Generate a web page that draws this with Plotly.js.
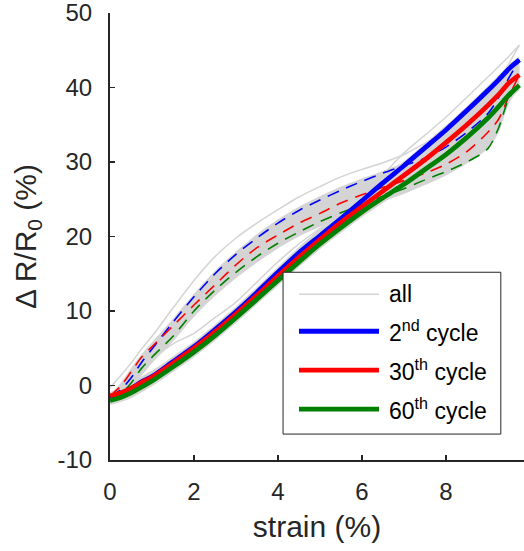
<!DOCTYPE html>
<html>
<head>
<meta charset="utf-8">
<script src="https://cdn.plot.ly/plotly-3.0.1.min.js"></script>
<style>
  html, body { margin: 0; padding: 0; background: #fff; }
  #chart { width: 524px; height: 551px; }
</style>
</head>
<body>
<div id="chart"></div>
<script>
// Strain sample points (%)
const strain = [0, 0.25, 0.5, 0.75, 1, 1.5, 2, 2.5, 3, 3.5, 4, 4.5, 5, 5.5, 6, 6.5, 7, 7.5, 8, 8.5, 9, 9.25, 9.5, 9.75];

// Loading branches (solid) of selected cycles, ΔR/R0 (%)
const loadCycle2  = [-1.5, -1.1, -0.4, 0.5, 1.2, 3.2, 5.2, 7.5, 9.9, 12.5, 15.2, 17.8, 20.1, 22.4, 24.8, 27.2, 29.5, 31.9, 34.3, 36.9, 39.6, 41.0, 42.5, 43.7];
const loadCycle30 = [-1.4, -1.0, -0.4, 0.4, 1.1, 3.0, 5.0, 7.2, 9.6, 12.1, 14.7, 17.2, 19.6, 21.9, 24.0, 26.1, 28.2, 30.3, 32.6, 35.0, 37.6, 39.0, 40.6, 41.7];
const loadCycle60 = [-2.0, -1.6, -1.0, -0.2, 0.6, 2.5, 4.5, 6.7, 9.1, 11.6, 14.1, 16.6, 19.0, 21.2, 23.3, 25.2, 27.0, 29.0, 31.0, 33.3, 35.9, 37.4, 39.0, 40.3];

// Unloading branches (dashed) of selected cycles
const unloadCycle2  = [-1.5, -0.6, 1.0, 3.1, 4.9, 8.5, 11.9, 15.0, 17.6, 19.8, 21.8, 23.5, 24.9, 26.2, 27.4, 28.5, 29.5, 30.5, 32.0, 34.0, 36.5, 38.6, 41.3, 43.7];
const unloadCycle30 = [-1.4, -0.1, 1.8, 3.8, 5.2, 8.0, 10.8, 13.5, 16.2, 18.5, 20.2, 21.8, 23.1, 24.5, 25.6, 26.6, 27.5, 28.5, 29.7, 31.4, 34.0, 35.7, 38.8, 41.7];
const unloadCycle60 = [-2.0, -1.2, 0.3, 2.3, 3.8, 6.6, 10.0, 12.8, 15.2, 17.3, 19.1, 20.6, 22.0, 23.2, 24.3, 25.4, 26.4, 27.6, 28.7, 30.0, 31.8, 34.5, 38.5, 40.3];

// Envelope of all cycles: unloading spread
const allUnloadUpper = [-1.2, 0.3, 2.3, 4.2, 5.8, 9.0, 12.3, 15.4, 18.0, 20.3, 22.3, 24.0, 25.4, 26.7, 27.8, 28.8, 29.9, 30.9, 32.4, 34.5, 37.1, 39.1, 41.6, 43.7];
const allUnloadLower = [-2.3, -1.8, -0.6, 1.3, 3.0, 5.9, 9.2, 12.0, 14.4, 16.5, 18.4, 20.0, 21.3, 22.5, 23.6, 24.7, 25.7, 26.9, 28.2, 29.8, 31.8, 33.9, 37.8, 40.0];
// Envelope of all cycles: loading spread
const allLoadUpper = [-1.0, -0.5, 0.3, 1.2, 2.0, 3.9, 5.9, 8.2, 10.6, 13.2, 15.9, 18.6, 21.0, 23.0, 25.3, 27.8, 30.1, 32.5, 34.9, 37.5, 40.2, 41.6, 43.1, 44.2];
const allLoadLower = [-2.6, -2.2, -1.7, -0.9, -0.1, 1.8, 3.8, 6.0, 8.4, 10.9, 13.4, 15.9, 18.3, 20.5, 22.6, 24.5, 26.3, 28.3, 30.3, 32.6, 35.2, 36.7, 38.3, 39.6];
// Individual cycles lying outside the envelopes
const outerUnload = [-0.3, 1.3, 3.0, 4.9, 6.6, 10.4, 14.1, 17.3, 19.8, 21.8, 23.6, 25.3, 26.7, 28.0, 29.0, 29.9, 31.0, 32.5, 34.0, 36.0, 38.6, 40.8, 43.2, 45.7];
const outerLoad   = [-1.0, -0.2, 1.0, 2.3, 3.5, 5.6, 7.0, 9.1, 11.2, 13.9, 16.6, 19.0, 21.1, 23.3, 25.7, 28.3, 31.2, 33.6, 36.0, 38.7, 41.4, 42.8, 44.2, 45.7];

// Axis ticks
const xTicks = [0, 2, 4, 6, 8];
const yTicks = [-10, 0, 10, 20, 30, 40, 50];
const yTickText = ['-10', '0', '10', '20', '30', '40', '50'];

// Series labels and colours
const seriesNames  = ['all', '2<sup>nd</sup> cycle', '30<sup>th</sup> cycle', '60<sup>th</sup> cycle'];
const seriesColors = ['#d4d4d4', '#0000ff', '#ff0000', '#008000'];

const GRAY = seriesColors[0];
const FONT = 'Liberation Sans, Arial, Helvetica, sans-serif';
const INK = '#262626';

function band(upper, lower) {
  return [
    { x: strain, y: upper, mode: 'lines', line: { width: 0, shape: 'spline', smoothing: 0.8 },
      hoverinfo: 'skip', showlegend: false },
    { x: strain, y: lower, mode: 'lines', line: { width: 0, shape: 'spline', smoothing: 0.8 },
      fill: 'tonexty', fillcolor: GRAY, hoverinfo: 'skip', showlegend: false }
  ];
}
function grayLine(y) {
  return { x: strain, y: y, mode: 'lines', line: { color: GRAY, width: 1.5, shape: 'spline', smoothing: 0.8 },
           showlegend: false };
}
function cycleLine(y, color, dashed) {
  return { x: strain, y: y, mode: 'lines',
           line: { color: color, width: dashed ? 1.6 : 4.8, dash: dashed ? '12px,8px' : 'solid',
                   shape: 'spline', smoothing: 0.8 },
           showlegend: false };
}

const traces = [
  ...band(allUnloadUpper, allUnloadLower),
  ...band(allLoadUpper, allLoadLower),
  grayLine(outerUnload),
  grayLine(outerLoad),
  cycleLine(unloadCycle2, seriesColors[1], true),
  cycleLine(unloadCycle30, seriesColors[2], true),
  cycleLine(unloadCycle60, seriesColors[3], true),
  cycleLine(loadCycle2, seriesColors[1], false),
  cycleLine(loadCycle30, seriesColors[2], false),
  cycleLine(loadCycle60, seriesColors[3], false)
];

// Hand-built legend box (paper coordinates) with long line samples
const legBox = { x0: 0.418, x1: 0.944, y0: 0.058, y1: 0.42 };
const legRows = [0.371, 0.288, 0.201, 0.114];
const legLineX = [0.4565, 0.6498];
const legTextX = 0.669;

const shapes = [{
  type: 'rect', xref: 'paper', yref: 'paper',
  x0: legBox.x0, x1: legBox.x1, y0: legBox.y0, y1: legBox.y1,
  fillcolor: '#ffffff', line: { color: INK, width: 1 }
}];
const annotations = [];
seriesNames.forEach((name, i) => {
  shapes.push({
    type: 'line', xref: 'paper', yref: 'paper',
    x0: legLineX[0], x1: legLineX[1], y0: legRows[i], y1: legRows[i],
    line: { color: seriesColors[i], width: i === 0 ? 1.5 : 4.8 }
  });
  annotations.push({
    xref: 'paper', yref: 'paper', x: legTextX, y: legRows[i],
    xanchor: 'left', yanchor: 'middle', showarrow: false,
    text: name, font: { family: FONT, size: 23, color: '#000' }
  });
});

const layout = {
  width: 524, height: 551,
  margin: { l: 110, r: 0, t: 13, b: 91 },
  paper_bgcolor: '#fff', plot_bgcolor: '#fff',
  showlegend: false,
  font: { family: FONT, color: INK },
  xaxis: {
    range: [0, 9.86], tickvals: xTicks, ticktext: xTicks.map(String),
    showgrid: false, zeroline: false, showline: true, linecolor: INK, linewidth: 2,
    ticks: 'inside', ticklen: 5, tickwidth: 1.5, tickcolor: INK,
    ticklabelstandoff: 9, ticklabeloverflow: 'allow',
    tickfont: { family: FONT, size: 24, color: INK },
    title: { text: 'strain (%)', font: { family: FONT, size: 30, color: INK }, standoff: 12 },
    automargin: false
  },
  yaxis: {
    range: [-10, 50], tickvals: yTicks, ticktext: yTickText,
    showgrid: false, zeroline: false, showline: true, linecolor: INK, linewidth: 2,
    ticks: 'inside', ticklen: 5, tickwidth: 1.5, tickcolor: INK,
    ticklabelstandoff: 11, ticklabeloverflow: 'allow',
    tickfont: { family: FONT, size: 24, color: INK },
    title: { text: 'Δ R/R<sub>0</sub> (%)', font: { family: FONT, size: 30, color: INK }, standoff: 12 },
    automargin: false
  },
  shapes: shapes,
  annotations: annotations
};

Plotly.newPlot('chart', traces, layout, { displayModeBar: false, staticPlot: true });
</script>
</body>
</html>
